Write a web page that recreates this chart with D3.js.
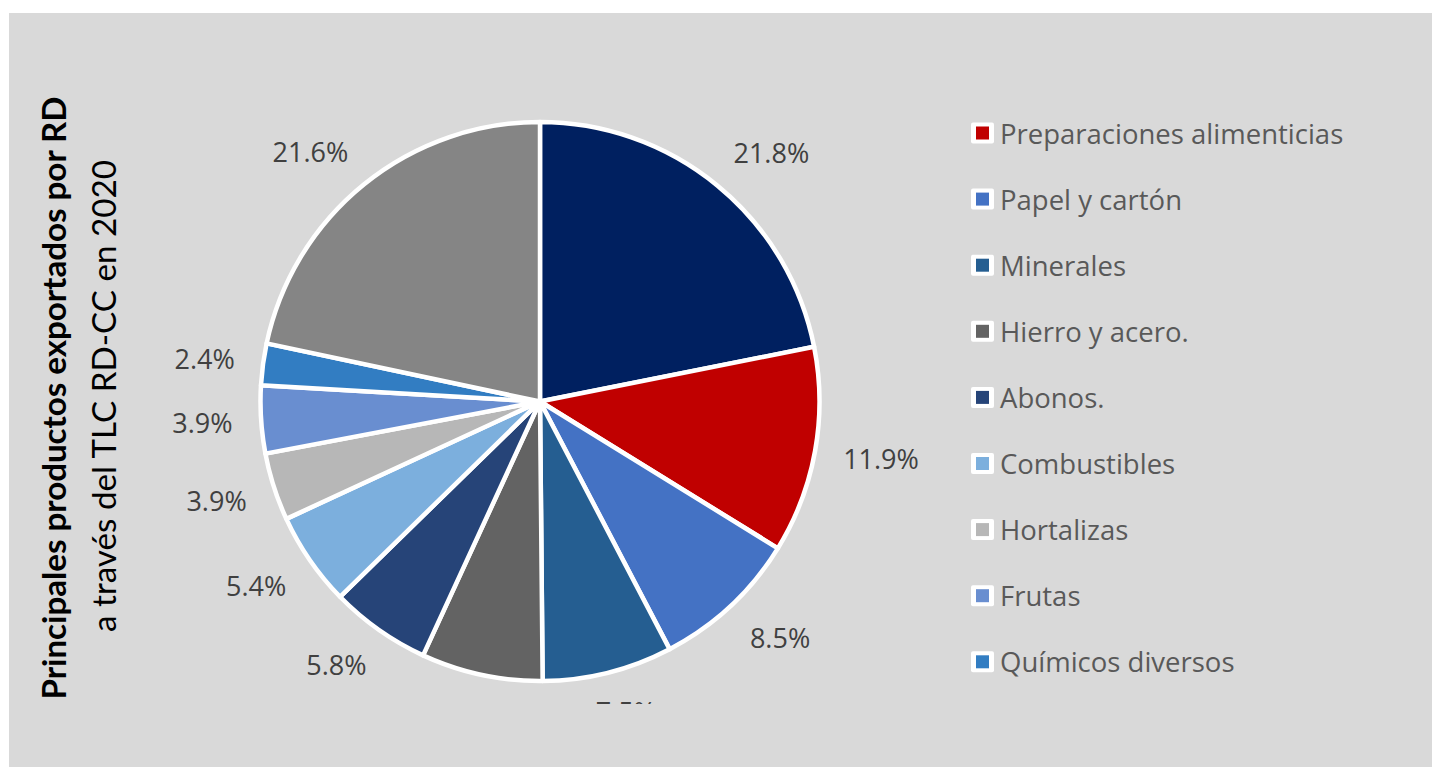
<!DOCTYPE html>
<html>
<head>
<meta charset="utf-8">
<script src="https://cdn.jsdelivr.net/npm/d3@7"></script>
<style>
  html, body { margin: 0; padding: 0; background: #ffffff; }
  svg { display: block; }
</style>
</head>
<body>
<div id="chart"></div>
<script>
// Productos exportados por RD via TLC RD-CC, 2020 (% del total)
const categories = [
    'Otros productos',
    'Preparaciones alimenticias',
    'Papel y cartón',
    'Minerales',
    'Hierro y acero.',
    'Abonos.',
    'Combustibles',
    'Hortalizas',
    'Frutas',
    'Químicos diversos',
    'Resto'
];
const shares = [21.8, 11.9, 8.5, 7.5, 7.0, 5.8, 5.4, 3.9, 3.9, 2.4, 21.6];
const sliceColors = ['#002060', '#C00000', '#4472C4', '#255E91', '#636363', '#264478',
                     '#7CAFDD', '#B7B7B7', '#698ED0', '#327DC2', '#858585'];
// only these entries show in the (cut off) legend
const legendItems = categories.slice(1, 10);

const W = 1432, H = 767;
const cx = 540, cy = 401.5, radius = 279.5;

const svg = d3.select('#chart').append('svg')
    .attr('width', W)
    .attr('height', H);

// chart area background
svg.append('rect')
    .attr('x', 9).attr('y', 13)
    .attr('width', W - 9).attr('height', H - 13)
    .attr('fill', '#D9D9D9');

// plot area clip (bottom labels get cut)
svg.append('clipPath').attr('id', 'plotClip')
    .append('rect')
    .attr('x', 9).attr('y', 13)
    .attr('width', W - 9).attr('height', 691);

const data = categories.map((name, i) => ({ name, value: shares[i], color: sliceColors[i] }));

const pie = d3.pie().sort(null).value(d => d.value);
const arc = d3.arc().innerRadius(0).outerRadius(radius);
const arcs = pie(data);

const g = svg.append('g')
    .attr('transform', `translate(${cx},${cy})`);

g.selectAll('path.slice')
    .data(arcs)
    .enter().append('path')
    .attr('class', 'slice')
    .attr('d', arc)
    .attr('fill', d => d.data.color)
    .attr('stroke', '#ffffff')
    .attr('stroke-width', 4.5)
    .attr('stroke-linejoin', 'round');

// outside-end labels: box pushed outward from an anchor just past the rim
const labelGroup = svg.append('g').attr('clip-path', 'url(#plotClip)');
const labelR = radius + 28.5;
const clamp1 = v => Math.max(-1, Math.min(1, v));

const labels = labelGroup.selectAll('text')
    .data(arcs)
    .enter().append('text')
    .attr('text-anchor', 'middle')
    .attr('dominant-baseline', 'central')
    .style('font-family', 'Open Sans, sans-serif')
    .style('font-size', '27px')
    .attr('fill', '#404040')
    .text(d => d3.format('.1f')(d.data.value) + '%');

labels.each(function(d) {
    const a = (d.startAngle + d.endAngle) / 2;
    const w = this.getComputedTextLength();
    const h = 22;
    const px = cx + Math.sin(a) * labelR;
    const py = cy - Math.cos(a) * labelR;
    d3.select(this)
        .attr('x', px + clamp1(Math.sin(a) * 1.5) * w / 2)
        .attr('y', py - clamp1(Math.cos(a) * 1.5) * h / 2);
});

// vertical title
const title = svg.append('g')
    .attr('transform', 'translate(0,398)');

title.append('text')
    .attr('transform', 'translate(66,0) rotate(-90)')
    .attr('text-anchor', 'middle')
    .attr('textLength', 603)
    .attr('lengthAdjust', 'spacingAndGlyphs')
    .style('font-family', 'Lato, sans-serif')
    .style('font-weight', 'bold')
    .style('font-size', '33px')
    .attr('fill', '#000000')
    .text('Principales productos exportados por RD');

title.append('text')
    .attr('transform', 'translate(116,-2) rotate(-90)')
    .attr('text-anchor', 'middle')
    .attr('textLength', 472)
    .attr('lengthAdjust', 'spacingAndGlyphs')
    .style('font-family', 'Lato, sans-serif')
    .style('font-size', '32.5px')
    .attr('fill', '#000000')
    .text('a través del TLC RD-CC en 2020');

// legend
const legend = svg.append('g')
    .attr('transform', 'translate(971,133)');

const rowGap = 66.1;
const rows = legend.selectAll('g.row')
    .data(legendItems)
    .enter().append('g')
    .attr('class', 'row')
    .attr('transform', (d, i) => `translate(0,${i * rowGap})`);

rows.append('rect')
    .attr('x', 0).attr('y', -10.5)
    .attr('width', 23).attr('height', 21)
    .attr('rx', 2)
    .attr('fill', '#ffffff');

rows.append('rect')
    .attr('x', 5).attr('y', -6.5)
    .attr('width', 13).attr('height', 13)
    .attr('fill', (d, i) => sliceColors[i + 1]);

rows.append('text')
    .attr('x', 29)
    .attr('y', 0)
    .attr('dominant-baseline', 'central')
    .style('font-family', 'Open Sans, sans-serif')
    .style('font-size', '27.5px')
    .attr('fill', '#595959')
    .text(d => d);
</script>
</body>
</html>
